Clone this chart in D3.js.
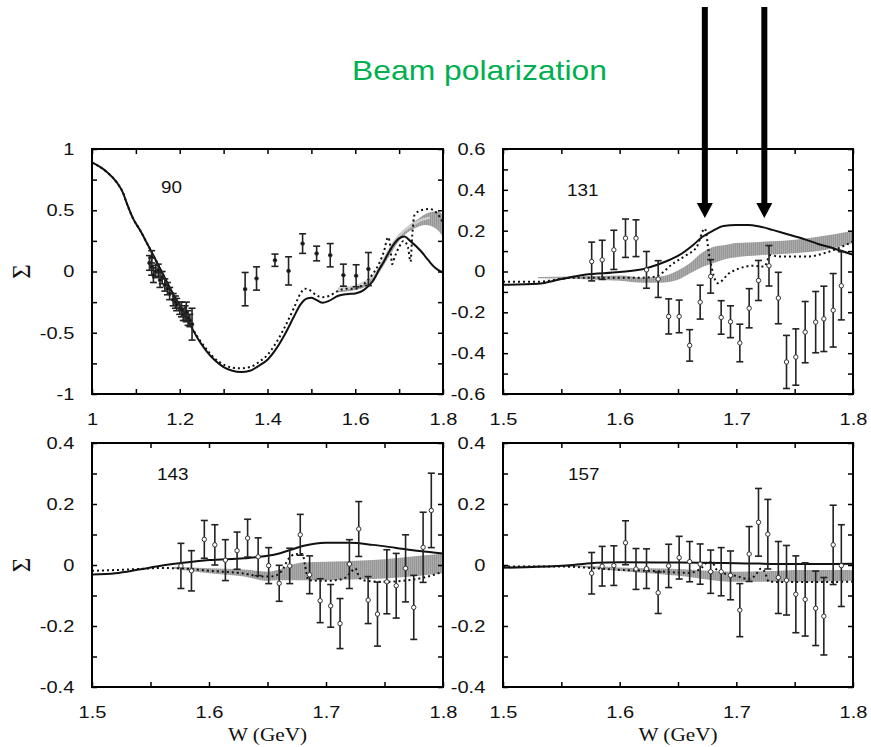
<!DOCTYPE html>
<html>
<head>
<meta charset="utf-8">
<script src="https://cdn.jsdelivr.net/npm/d3@7"></script>
<style>
  body { margin: 0; background: #fff; }
  svg { display: block; }
</style>
</head>
<body>
<div id="chart"></div>
<script>
// ---- panel 90 ----
const p90Solid = [[1.0,0.89],[1.033,0.815],[1.056,0.73],[1.071,0.64],[1.079,0.56],[1.094,0.43],[1.109,0.34],[1.124,0.24],[1.14,0.13],[1.16,-0.01],[1.18,-0.15],[1.2,-0.28],[1.22,-0.41],[1.24,-0.54],[1.26,-0.645],[1.28,-0.725],[1.3,-0.78],[1.32,-0.81],[1.34,-0.82],[1.36,-0.81],[1.38,-0.77],[1.4,-0.72],[1.42,-0.63],[1.44,-0.51],[1.46,-0.37],[1.475,-0.27],[1.49,-0.22],[1.5,-0.215],[1.51,-0.23],[1.525,-0.255],[1.54,-0.24],[1.56,-0.2],[1.58,-0.185],[1.6,-0.18],[1.62,-0.15],[1.64,-0.08],[1.655,0.02],[1.665,0.08],[1.68,0.18],[1.7,0.27],[1.712,0.285],[1.725,0.25],[1.75,0.165],[1.767,0.09],[1.782,0.03],[1.8,-0.01]];
const p90Dotted = [[1.0,0.89],[1.033,0.815],[1.056,0.73],[1.071,0.64],[1.079,0.56],[1.094,0.43],[1.109,0.34],[1.124,0.24],[1.14,0.13],[1.16,-0.01],[1.18,-0.15],[1.2,-0.28],[1.22,-0.41],[1.24,-0.53],[1.26,-0.63],[1.28,-0.71],[1.3,-0.76],[1.32,-0.785],[1.34,-0.79],[1.36,-0.78],[1.38,-0.74],[1.4,-0.68],[1.42,-0.58],[1.44,-0.45],[1.46,-0.3],[1.475,-0.18],[1.485,-0.14],[1.495,-0.15],[1.51,-0.19],[1.525,-0.21],[1.54,-0.2],[1.56,-0.16],[1.58,-0.14],[1.6,-0.14],[1.62,-0.1],[1.64,-0.02],[1.655,0.07],[1.665,0.16],[1.675,0.28],[1.68,0.2],[1.684,0.06],[1.69,0.12],[1.7,0.2],[1.71,0.25],[1.72,0.2],[1.726,0.08],[1.73,0.3],[1.735,0.46],[1.75,0.5],[1.77,0.51],[1.785,0.48],[1.8,0.4]];
const p90Band = [[1.56,-0.17,-0.155],[1.6,-0.15,-0.13],[1.62,-0.13,-0.1],[1.64,-0.08,-0.04],[1.66,0.02,0.08],[1.68,0.14,0.2],[1.7,0.25,0.3],[1.72,0.32,0.37],[1.74,0.36,0.42],[1.76,0.38,0.47],[1.78,0.36,0.49],[1.79,0.33,0.49],[1.8,0.28,0.46]];
const p90Light = [[1.56,-0.14],[1.6,-0.12],[1.63,-0.07],[1.65,0.0],[1.67,0.13],[1.69,0.25],[1.71,0.33],[1.73,0.38],[1.75,0.42],[1.77,0.44]];
const p90Points = [[1.131,0.07,0.06],[1.136,0.12,0.05],[1.136,0.04,0.07],[1.14,-0.03,0.06],[1.145,0.0,0.05],[1.151,0.01,0.05],[1.155,-0.07,0.06],[1.16,-0.05,0.05],[1.166,-0.11,0.05],[1.172,-0.14,0.05],[1.177,-0.18,0.05],[1.185,-0.23,0.05],[1.19,-0.25,0.05],[1.193,-0.27,0.05],[1.2,-0.3,0.05],[1.204,-0.31,0.06],[1.208,-0.35,0.05],[1.212,-0.34,0.06],[1.215,-0.33,0.08],[1.219,-0.38,0.06],[1.223,-0.4,0.05],[1.228,-0.43,0.13],
  [1.349,-0.144,0.136],[1.375,-0.057,0.095],[1.417,0.092,0.05],[1.448,0.005,0.115],[1.48,0.228,0.08],[1.512,0.147,0.06],[1.543,0.133,0.095],[1.573,-0.03,0.09],[1.602,-0.035,0.09],[1.63,0.02,0.135]];
const p90XTicks = [1,1.1,1.2,1.3,1.4,1.5,1.6,1.7,1.8];
const p90XLabels = [1,1.2,1.4,1.6,1.8];
const p90YTicks = [-1,-0.75,-0.5,-0.25,0,0.25,0.5,0.75,1];
const p90YLabels = [-1,-0.5,0,0.5,1];

// ---- panel 131 ----
const p131Solid = [[1.5,-0.065],[1.53,-0.06],[1.55,-0.037],[1.57,-0.016],[1.6,-0.003],[1.623,0.016],[1.64,0.05],[1.651,0.08],[1.663,0.13],[1.671,0.17],[1.68,0.2],[1.689,0.223],[1.7,0.228],[1.71,0.228],[1.72,0.22],[1.731,0.204],[1.743,0.184],[1.753,0.168],[1.76,0.155],[1.77,0.135],[1.783,0.114],[1.8,0.082]];
const p131Dotted = [[1.5,-0.05],[1.53,-0.05],[1.56,-0.03],[1.6,-0.03],[1.62,-0.03],[1.631,-0.024],[1.646,0.04],[1.657,0.08],[1.666,0.12],[1.673,0.21],[1.677,0.07],[1.684,-0.057],[1.694,-0.008],[1.703,0.016],[1.714,0.028],[1.724,0.024],[1.729,0.08],[1.737,0.073],[1.76,0.073],[1.78,0.098],[1.8,0.147]];
const p131Band = [[1.53,-0.033,-0.027],[1.56,-0.035,-0.025],[1.58,-0.04,-0.022],[1.6,-0.045,-0.02],[1.62,-0.055,-0.03],[1.635,-0.055,-0.025],[1.65,-0.04,0.005],[1.66,-0.01,0.04],[1.67,0.02,0.09],[1.68,0.04,0.12],[1.69,0.06,0.13],[1.7,0.07,0.14],[1.72,0.08,0.145],[1.75,0.09,0.155],[1.77,0.1,0.17],[1.8,0.14,0.2]];
const p131Points = [[1.576,0.049,0.095],[1.585,0.057,0.096],[1.595,0.106,0.096],[1.605,0.163,0.094],[1.614,0.163,0.09],[1.623,0.008,0.09],[1.633,-0.037,0.09],[1.642,-0.22,0.086],[1.651,-0.22,0.08],[1.66,-0.362,0.077],[1.669,-0.15,0.083],[1.678,-0.024,0.082],[1.687,-0.225,0.082],[1.695,-0.246,0.078],[1.703,-0.35,0.092],[1.711,-0.18,0.096],[1.719,-0.044,0.098],[1.728,0.028,0.099],[1.736,-0.13,0.126],[1.743,-0.443,0.13],[1.751,-0.419,0.138],[1.759,-0.297,0.15],[1.768,-0.248,0.15],[1.775,-0.232,0.16],[1.783,-0.19,0.18],[1.79,-0.07,0.167]];
const p131XTicks = [1.5,1.55,1.6,1.65,1.7,1.75,1.8];
const p131XLabels = [1.5,1.6,1.7,1.8];
const p131YTicks = [-0.6,-0.5,-0.4,-0.3,-0.2,-0.1,0,0.1,0.2,0.3,0.4,0.5,0.6];
const p131YLabels = [-0.6,-0.4,-0.2,0,0.2,0.4,0.6];
const arrowW = [1.673, 1.724];
const arrowTip = 0.262;

// ---- panel 143 ----
const p143Solid = [[1.5,-0.031],[1.52,-0.027],[1.54,-0.015],[1.56,-0.002],[1.58,0.008],[1.6,0.016],[1.63,0.022],[1.65,0.03],[1.66,0.038],[1.67,0.05],[1.68,0.062],[1.69,0.07],[1.7,0.073],[1.72,0.073],[1.74,0.066],[1.76,0.056],[1.78,0.046],[1.8,0.038]];
const p143Dotted = [[1.5,-0.019],[1.53,-0.015],[1.56,-0.01],[1.58,-0.012],[1.6,-0.019],[1.63,-0.028],[1.645,-0.038],[1.655,-0.037],[1.662,-0.02],[1.668,0.02],[1.673,0.035],[1.68,0.036],[1.682,0.0],[1.685,-0.05],[1.7,-0.052],[1.715,-0.045],[1.722,-0.02],[1.725,-0.011],[1.729,-0.044],[1.735,-0.052],[1.75,-0.055],[1.77,-0.05],[1.785,-0.04],[1.8,-0.022]];
const p143Band = [[1.57,-0.012,-0.006],[1.6,-0.027,-0.011],[1.63,-0.038,-0.015],[1.65,-0.052,-0.022],[1.66,-0.05,-0.015],[1.67,-0.05,0.0],[1.68,-0.05,0.008],[1.7,-0.05,0.011],[1.73,-0.047,0.015],[1.75,-0.044,0.019],[1.78,-0.035,0.03],[1.8,-0.027,0.038]];
const p143Points = [[1.576,-0.003,0.074],[1.585,-0.019,0.066],[1.596,0.084,0.062],[1.605,0.066,0.066],[1.614,0.016,0.067],[1.624,0.047,0.061],[1.633,0.088,0.062],[1.642,0.027,0.062],[1.651,-0.002,0.059],[1.66,-0.06,0.059],[1.669,-0.003,0.058],[1.678,0.099,0.067],[1.686,-0.032,0.062],[1.695,-0.117,0.072],[1.704,-0.134,0.07],[1.712,-0.192,0.082],[1.72,0.003,0.08],[1.728,0.118,0.09],[1.736,-0.115,0.077],[1.744,-0.161,0.105],[1.752,-0.055,0.105],[1.76,-0.068,0.106],[1.768,-0.011,0.11],[1.775,-0.139,0.105],[1.783,0.058,0.115],[1.79,0.179,0.122]];
const lowXTicks = [1.5,1.55,1.6,1.65,1.7,1.75,1.8];
const lowXLabels = [1.5,1.6,1.7,1.8];
const lowYTicks = [-0.4,-0.3,-0.2,-0.1,0,0.1,0.2,0.3,0.4];
const lowYLabels = [-0.4,-0.2,0,0.2,0.4];

// ---- panel 157 ----
const p157Solid = [[1.5,-0.009],[1.53,-0.006],[1.56,0.0],[1.58,0.007],[1.6,0.009],[1.65,0.008],[1.7,0.006],[1.75,0.003],[1.8,0.004]];
const p157Dotted = [[1.5,-0.005],[1.55,-0.005],[1.58,-0.011],[1.6,-0.016],[1.63,-0.02],[1.66,-0.026],[1.67,-0.01],[1.675,0.008],[1.679,0.01],[1.683,-0.015],[1.69,-0.028],[1.7,-0.036],[1.71,-0.046],[1.716,-0.035],[1.721,-0.012],[1.724,-0.02],[1.728,-0.055],[1.75,-0.056],[1.8,-0.055]];
const p157Band = [[1.5,-0.008,-0.003],[1.56,-0.006,-0.002],[1.58,-0.012,-0.004],[1.6,-0.02,-0.008],[1.65,-0.035,-0.013],[1.7,-0.055,-0.022],[1.73,-0.055,-0.02],[1.75,-0.055,-0.016],[1.8,-0.052,-0.016]];
const p157Points = [[1.576,-0.027,0.068],[1.585,-0.004,0.065],[1.595,-0.002,0.065],[1.605,0.073,0.072],[1.614,-0.013,0.067],[1.623,-0.012,0.065],[1.633,-0.091,0.068],[1.642,-0.003,0.071],[1.651,0.024,0.07],[1.66,0.011,0.066],[1.669,0.003,0.066],[1.678,-0.022,0.071],[1.687,-0.022,0.079],[1.695,-0.034,0.08],[1.703,-0.148,0.087],[1.711,0.036,0.09],[1.719,0.14,0.111],[1.727,0.101,0.114],[1.736,-0.041,0.118],[1.743,-0.05,0.114],[1.751,-0.096,0.126],[1.759,-0.113,0.12],[1.768,-0.142,0.122],[1.775,-0.168,0.127],[1.783,0.066,0.13],[1.79,-0.002,0.134]];

const panels = [
  { num: "90", box: [92, 149, 351, 245], numPos: [69, 44], xDomain: [1, 1.8], yDomain: [-1, 1],
    xTicks: p90XTicks, xLabels: p90XLabels, yTicks: p90YTicks, yLabels: p90YLabels,
    solid: p90Solid, dotted: p90Dotted, band: p90Band, light: p90Light, points: p90Points,
    filled: true, sigma: true, wLabel: false },
  { num: "131", box: [503, 149, 350, 245], numPos: [64, 47], xDomain: [1.5, 1.8], yDomain: [-0.6, 0.6],
    xTicks: p131XTicks, xLabels: p131XLabels, yTicks: p131YTicks, yLabels: p131YLabels,
    solid: p131Solid, dotted: p131Dotted, band: p131Band, light: null, points: p131Points,
    filled: false, sigma: false, wLabel: false, arrows: true },
  { num: "143", box: [92, 443, 351, 244], numPos: [65, 37], xDomain: [1.5, 1.8], yDomain: [-0.4, 0.4],
    xTicks: lowXTicks, xLabels: lowXLabels, yTicks: lowYTicks, yLabels: lowYLabels,
    solid: p143Solid, dotted: p143Dotted, band: p143Band, light: null, points: p143Points,
    filled: false, sigma: true, wLabel: true },
  { num: "157", box: [503, 443, 350, 244], numPos: [65, 37], xDomain: [1.5, 1.8], yDomain: [-0.4, 0.4],
    xTicks: lowXTicks, xLabels: lowXLabels, yTicks: lowYTicks, yLabels: lowYLabels,
    solid: p157Solid, dotted: p157Dotted, band: p157Band, light: null, points: p157Points,
    filled: false, sigma: false, wLabel: true }
];

const width = 871, height = 747;
const stretch = 1.18;   // the source picture is stretched sideways
const sansFont = "'Liberation Sans', Arial, Helvetica, sans-serif";
const serifFont = "'Liberation Serif', 'Times New Roman', Times, serif";

const svg = d3.select("#chart").append("svg")
  .attr("width", width)
  .attr("height", height);

const defs = svg.append("defs");
const pat = defs.append("pattern")
  .attr("id", "hatch")
  .attr("patternUnits", "userSpaceOnUse")
  .attr("width", 2).attr("height", 10);
pat.append("rect").attr("width", 2).attr("height", 10).attr("fill", "#ababab");
pat.append("rect").attr("width", 1).attr("height", 10).attr("fill", "#979797");

// title
svg.append("text")
  .attr("transform", `translate(352,80) scale(${stretch},1)`)
  .attr("font-family", sansFont)
  .attr("font-size", 27)
  .attr("fill", "#00b050")
  .text("Beam polarization");

const fmt = d => String(+d.toFixed(2));
const isLabel = (list, d) => list.some(l => Math.abs(l - d) < 1e-9);

panels.forEach((p, i) => {
  const [x0, y0, w, h] = p.box;
  const x = d3.scaleLinear().domain(p.xDomain).range([0, w]);
  const y = d3.scaleLinear().domain(p.yDomain).range([h, 0]);
  p.x = x; p.y = y;

  const g = svg.append("g").attr("transform", `translate(${x0},${y0})`);

  defs.append("clipPath").attr("id", "clip" + i)
    .append("rect").attr("width", w).attr("height", h);
  const plot = g.append("g").attr("clip-path", `url(#clip${i})`);

  // model band
  const area = d3.area()
    .x(d => x(d[0])).y0(d => y(d[1])).y1(d => y(d[2]))
    .curve(d3.curveMonotoneX);
  plot.append("path").datum(p.band)
    .attr("d", area)
    .attr("fill", "url(#hatch)");

  const line = d3.line().x(d => x(d[0])).y(d => y(d[1])).curve(d3.curveMonotoneX);

  if (p.light) {
    plot.append("path").datum(p.light)
      .attr("d", line)
      .attr("fill", "none")
      .attr("stroke", "#cfcfcf")
      .attr("stroke-width", 2.5);
  }

  plot.append("path").datum(p.solid)
    .attr("d", line)
    .attr("fill", "none")
    .attr("stroke", "#111")
    .attr("stroke-width", 2);

  plot.append("path").datum(p.dotted)
    .attr("d", line)
    .attr("fill", "none")
    .attr("stroke", "#111")
    .attr("stroke-width", 2)
    .attr("stroke-dasharray", "2,3");

  // data with error bars
  const pts = plot.selectAll(".pt").data(p.points).join("g").attr("class", "pt");
  pts.append("line")
    .attr("x1", d => x(d[0])).attr("x2", d => x(d[0]))
    .attr("y1", d => y(d[1] - d[2])).attr("y2", d => y(d[1] + d[2]))
    .attr("stroke", "#222").attr("stroke-width", 1.6);
  [-1, 1].forEach(s => {
    pts.append("line")
      .attr("x1", d => x(d[0]) - 3.5).attr("x2", d => x(d[0]) + 3.5)
      .attr("y1", d => y(d[1] + s * d[2])).attr("y2", d => y(d[1] + s * d[2]))
      .attr("stroke", "#222").attr("stroke-width", 1.6);
  });
  pts.append("circle")
    .attr("cx", d => x(d[0])).attr("cy", d => y(d[1]))
    .attr("r", p.filled ? 1.8 : 2.2)
    .attr("fill", p.filled ? "#111" : "#fff")
    .attr("stroke", "#333").attr("stroke-width", 1);

  // axes, ticks pointing inward on all four sides
  const bottom = g.append("g").attr("transform", `translate(0,${h})`)
    .call(d3.axisBottom(x).tickValues(p.xTicks).tickSize(-5).tickPadding(19)
      .tickFormat(d => isLabel(p.xLabels, d) ? fmt(d) : ""));
  const left = g.append("g")
    .call(d3.axisLeft(y).tickValues(p.yTicks).tickSize(-5).tickPadding(15)
      .tickFormat(d => isLabel(p.yLabels, d) ? fmt(d) : ""));
  g.append("g")
    .call(d3.axisTop(x).tickValues(p.xTicks).tickSize(-5).tickFormat(""));
  g.append("g").attr("transform", `translate(${w},0)`)
    .call(d3.axisRight(y).tickValues(p.yTicks).tickSize(-5).tickFormat(""));

  g.selectAll(".domain").remove();
  g.selectAll(".tick line").attr("stroke", "#000").attr("stroke-width", 1.5);
  [bottom, left].forEach(a => a.selectAll("text")
    .attr("transform", `scale(${stretch},1)`)
    .attr("font-family", sansFont)
    .attr("font-size", 17)
    .attr("fill", "#111"));

  g.append("rect")
    .attr("width", w).attr("height", h)
    .attr("fill", "none").attr("stroke", "#000").attr("stroke-width", 2);

  g.append("text")
    .attr("transform", `translate(${p.numPos[0]},${p.numPos[1]}) scale(${stretch},1)`)
    .attr("font-family", sansFont)
    .attr("font-size", 16)
    .attr("fill", "#111")
    .text(p.num);

  if (p.sigma) {
    svg.append("text")
      .attr("transform", `translate(30,${y0 + h / 2}) rotate(-90)`)
      .attr("text-anchor", "middle")
      .attr("font-family", serifFont)
      .attr("font-size", 25)
      .attr("fill", "#111")
      .text("Σ");
  }
  if (p.wLabel) {
    svg.append("text")
      .attr("transform", `translate(${x0 + w / 2},741) scale(${stretch},1)`)
      .attr("text-anchor", "middle")
      .attr("font-family", serifFont)
      .attr("font-size", 18)
      .attr("fill", "#111")
      .text("W (GeV)");
  }
});

// arrows pointing at the W values of panel 131
const ap = panels[1];
const tipY = ap.box[1] + ap.y(arrowTip);
svg.selectAll(".arrow").data(arrowW).join("g").attr("class", "arrow")
  .each(function (wv) {
    const ax = ap.box[0] + ap.x(wv);
    const a = d3.select(this);
    a.append("line")
      .attr("x1", ax).attr("x2", ax)
      .attr("y1", 7).attr("y2", tipY - 12)
      .attr("stroke", "#000").attr("stroke-width", 6);
    a.append("path")
      .attr("d", `M${ax - 8},${tipY - 15}L${ax + 8},${tipY - 15}L${ax},${tipY}Z`)
      .attr("fill", "#000");
  });
</script>
</body>
</html>
